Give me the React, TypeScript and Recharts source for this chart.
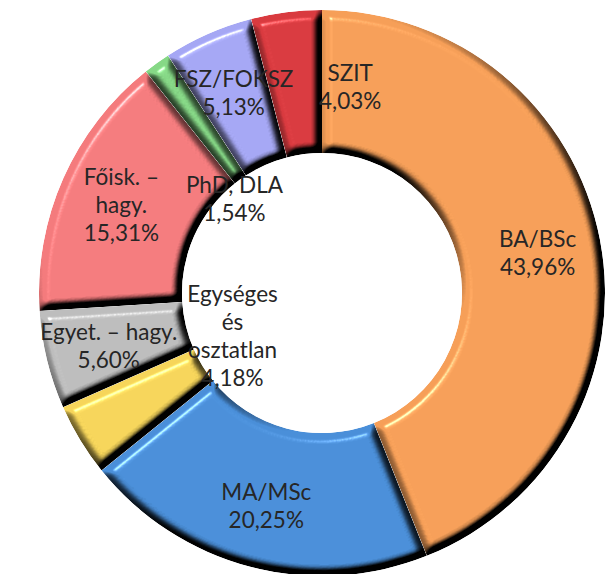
import React from 'react';
import { PieChart, Pie, Cell, Sector } from 'recharts';

// képzési szintek megoszlása (%)
const categories = [
  'BA/BSc',
  'MA/MSc',
  'Egységes\nés\nosztatlan',
  'Egyet. – hagy.',
  'Főisk. –\nhagy.',
  'PhD, DLA',
  'FSZ/FOKSZ',
  'SZIT',
];
const shares = [43.96, 20.25, 4.18, 5.6, 15.31, 1.54, 5.13, 4.03];
const colors = ['#F69F58', '#4A8FD9', '#F6D55A', '#BDBDBD', '#F47B7D', '#86D886', '#A5A7F4', '#D93A3F'];

const data = categories.map((name, i) => ({ name, value: shares[i] }));

// label placement tweaks (radius, angle shift) like the Excel original
const labelNudge: Record<number, { r?: number; da?: number }> = {
  2: { r: 99, da: -6 },
  5: { r: 129, da: 7 },
  7: { r: 209, da: -15 },
};

const RAD = Math.PI / 180;

const renderLabel = (props: any) => {
  const { cx, cy, midAngle, innerRadius, outerRadius, index, name, value } = props;
  const nudge = labelNudge[index] || {};
  const r = nudge.r ?? (innerRadius + outerRadius) / 2 + 8;
  const a = (midAngle + (nudge.da ?? 0)) * RAD;
  const x = cx + r * Math.cos(-a);
  const y = cy + r * Math.sin(-a);
  const lines = [...String(name).split('\n'), value.toFixed(2).replace('.', ',') + '%'];
  const lh = 28;
  const y0 = y - ((lines.length - 1) * lh) / 2;
  return (
    <text
      key={`lbl-${index}`}
      x={x}
      y={y0}
      textAnchor="middle"
      dominantBaseline="central"
      fill="#262626"
      fontSize={22.5}
      fontFamily="Lato, 'Open Sans', sans-serif"
    >
      {lines.map((t, i) => (
        <tspan key={i} x={x} y={y0 + i * lh}>
          {t}
        </tspan>
      ))}
    </text>
  );
};

const BevelSector = (props: any) => (
  <g filter="url(#bevel)">
    <Sector {...props} stroke="none" />
  </g>
);

const App: React.FC = () => {
  return (
    <div style={{ position: 'absolute', left: 0, top: 0, width: 616, height: 574, background: '#fff' }}>
      <PieChart width={616} height={574} margin={{ top: 0, right: 0, bottom: 0, left: 0 }}>
        <defs>
          <filter id="bevel" x="-10%" y="-10%" width="120%" height="120%" colorInterpolationFilters="sRGB">
            <feGaussianBlur in="SourceAlpha" stdDeviation="4" result="blur" />
            <feDiffuseLighting in="blur" surfaceScale="14" diffuseConstant="1.41" lightingColor="#ffffff" result="light">
              <feDistantLight azimuth="235" elevation="45" />
            </feDiffuseLighting>
            <feSpecularLighting in="blur" surfaceScale="14" specularConstant="0.45" specularExponent="40" lightingColor="#ffffff" result="spec">
              <feDistantLight azimuth="235" elevation="40" />
            </feSpecularLighting>
            <feComposite in="SourceGraphic" in2="light" operator="arithmetic" k1="1" k2="0" k3="0" k4="0" result="lit" />
            <feComposite in="spec" in2="SourceAlpha" operator="in" result="specIn" />
            <feComposite in="lit" in2="specIn" operator="arithmetic" k1="0" k2="1" k3="1" k4="0" result="both" />
            <feComposite in="both" in2="SourceAlpha" operator="in" />
          </filter>
        </defs>
        <Pie
          data={data}
          dataKey="value"
          nameKey="name"
          cx={322}
          cy={293}
          innerRadius={140}
          outerRadius={283}
          startAngle={90}
          endAngle={-270}
          stroke="none"
          shape={BevelSector}
          label={renderLabel}
          labelLine={false}
          isAnimationActive={false}
        >
          {data.map((d, i) => (
            <Cell key={d.name} fill={colors[i]} />
          ))}
        </Pie>
      </PieChart>
    </div>
  );
};

export default App;
